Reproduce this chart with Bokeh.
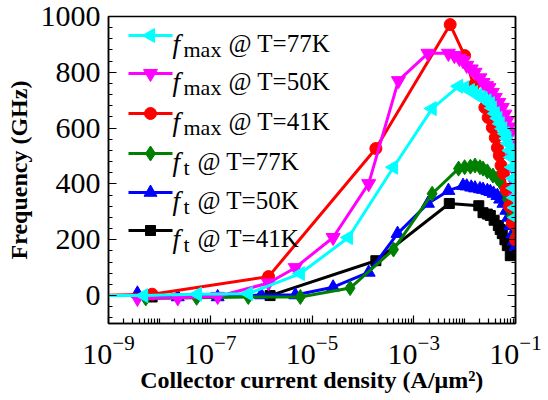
from bokeh.plotting import figure
from bokeh.models import (FixedTicker, LogTickFormatter, LinearAxis, Label,
                          CustomJSTickFormatter)
from bokeh.embed import file_html
from bokeh.resources import INLINE
import math

# ---------------- data (collector current density in A/um^2, frequency in GHz)
J_fmax77 = [5.0e-10, 4.9e-9, 5.6e-8, 5.6e-7, 5.9e-6, 5.2e-5, 4.0e-4, 2.3e-3, 7.6e-3, 1.0e-2,
            1.3e-2, 1.5e-2, 1.8e-2, 2.1e-2, 2.3e-2, 2.75e-2, 3.2e-2, 3.5e-2, 4.0e-2, 4.5e-2,
            5.0e-2, 5.6e-2, 6.3e-2, 6.8e-2, 7.2e-2, 7.8e-2, 8.3e-2, 8.7e-2, 9.1e-2, 9.3e-2,
            9.5e-2, 9.8e-2, 1.0e-1]
f_fmax77 = [0, 0, 5, 7, 79, 208, 460, 670, 750, 745,
            735, 728, 718, 710, 706, 698, 688, 672, 652, 635,
            616, 598, 580, 563, 545, 520, 495, 460, 420, 385,
            351, 315, 280]

J_fmax50 = [3.7e-9, 2.3e-8, 1.4e-7, 1.4e-6, 4.7e-6, 2.6e-5, 1.3e-4, 5.0e-4, 1.9e-3, 4.8e-3,
            6.3e-3, 7.9e-3, 9.3e-3, 1.1e-2, 1.35e-2, 1.6e-2, 2.0e-2, 2.3e-2, 2.7e-2, 3.0e-2,
            3.5e-2, 4.0e-2, 4.7e-2, 5.5e-2, 6.2e-2, 6.9e-2, 7.4e-2, 7.9e-2, 8.5e-2, 8.9e-2,
            9.3e-2, 9.8e-2, 1.0e-1]
f_fmax50 = [-10, -8, -3, 45, 100, 208, 401, 770, 868, 868,
            860, 850, 842, 825, 812, 800, 780, 763, 752, 745,
            728, 710, 692, 674, 650, 627, 604, 581, 540, 495,
            450, 400, 350]

J_fmax41 = [5.0e-10, 7.2e-9, 1.4e-6, 1.8e-4, 5.2e-3, 1.0e-2, 1.5e-2, 2.5e-2, 2.9e-2, 3.5e-2,
            4.0e-2, 4.4e-2, 4.8e-2, 5.2e-2, 5.8e-2, 6.6e-2, 7.6e-2, 8.7e-2, 1.0e-1]
f_fmax41 = [0, 5, 68, 527, 971, 860, 753, 674, 638, 602,
            566, 530, 502, 466, 437, 380, 320, 260, 200]

J_ft77 = [5.4e-9, 5.4e-8, 5.6e-7, 5.9e-6, 5.6e-5, 4.0e-4, 2.3e-3, 7.6e-3, 1.0e-2, 1.3e-2,
          1.6e-2, 2.0e-2, 2.3e-2, 2.8e-2, 3.6e-2, 4.4e-2, 5.0e-2, 5.8e-2, 6.3e-2, 6.9e-2,
          7.6e-2, 8.3e-2, 8.9e-2, 9.5e-2, 1.0e-1]
f_ft77 = [-10, -8, -5, -5, 27, 165, 365, 455, 460, 462,
          466, 460, 455, 445, 430, 420, 410, 390, 370, 345,
          310, 285, 270, 250, 215]

J_ft50 = [3.7e-9, 2.3e-8, 1.4e-7, 1.0e-6, 4.7e-6, 2.6e-5, 1.3e-4, 4.8e-4, 1.9e-3, 4.8e-3,
          9.3e-3, 1.1e-2, 1.35e-2, 1.6e-2, 2.0e-2, 2.3e-2, 2.8e-2, 3.2e-2, 3.7e-2, 4.4e-2,
          5.0e-2, 5.8e-2, 6.6e-2, 7.2e-2, 7.9e-2, 8.7e-2, 9.3e-2, 1.0e-1]
f_ft50 = [8, -5, -5, 2, 2, 30, 83, 222, 330, 376,
          394, 392, 388, 385, 382, 380, 376, 372, 366, 358,
          345, 330, 305, 280, 250, 220, 195, 175]

J_ft41 = [7.2e-9, 1.5e-6, 1.8e-4, 5.0e-3, 1.9e-2, 2.3e-2, 2.8e-2, 3.2e-2, 3.8e-2, 4.6e-2,
          5.0e-2, 5.5e-2, 6.2e-2, 6.9e-2, 7.9e-2]
f_ft41 = [-5, 0, 125, 330, 322, 297, 292, 287, 270, 251,
          237, 222, 200, 179, 143]

x_ticks = [1e-9, 1e-7, 1e-5, 1e-3, 1e-1]
y_ticks = [0, 200, 400, 600, 800, 1000]

legend_temps = ["T=77K", "T=50K", "T=41K", "T=77K", "T=50K", "T=41K"]
legend_subs = ["max", "max", "max", "t", "t", "t"]

SERIF = "'Liberation Serif', serif"

p = figure(width=548, height=400, x_axis_type="log", x_range=(1e-9, 1e-1),
           y_range=(-100, 1000), output_backend="svg", toolbar_location=None,
           min_border_left=108, min_border_right=33, min_border_top=16,
           min_border_bottom=77)
p.xgrid.visible = False
p.ygrid.visible = False
p.outline_line_color = "black"
p.outline_line_width = 1.5
p.background_fill_color = "white"
p.border_fill_color = "white"

# x axis
minor_x = []
for e in range(-9, -1):
    for m in range(1, 10):
        v = m * 10.0 ** e
        if v not in x_ticks:
            minor_x.append(v)
p.xaxis.ticker = FixedTicker(ticks=x_ticks, minor_ticks=minor_x)
p.xaxis.formatter = LogTickFormatter()
p.xaxis.major_label_text_font = SERIF
p.xaxis.major_label_text_font_size = "30px"
p.xaxis.major_label_text_color = "black"
p.xaxis.major_label_standoff = 12
p.xaxis.axis_label = "Collector current density (A/μm²)"
p.xaxis.axis_label_text_font = SERIF
p.xaxis.axis_label_text_font_style = "bold"
p.xaxis.axis_label_text_font_size = "24px"
p.xaxis.axis_label_text_color = "black"
p.xaxis.axis_label_standoff = 0
p.xaxis.major_tick_in = 8
p.xaxis.major_tick_out = 0
p.xaxis.minor_tick_in = 5
p.xaxis.minor_tick_out = 0
p.xaxis.axis_line_width = 1.5
p.xaxis.major_tick_line_width = 1.2
p.xaxis.minor_tick_line_width = 1.2

# y axis
minor_y = [v for v in range(-80, 1000, 40) if v % 200 != 0]
p.yaxis.ticker = FixedTicker(ticks=y_ticks, minor_ticks=minor_y)
p.yaxis.major_label_text_font = SERIF
p.yaxis.major_label_text_font_size = "30px"
p.yaxis.major_label_text_color = "black"
p.yaxis.major_label_standoff = 8
p.yaxis.axis_label = "Frequency (GHz)"
p.yaxis.axis_label_text_font = SERIF
p.yaxis.axis_label_text_font_style = "bold"
p.yaxis.axis_label_text_font_size = "24px"
p.yaxis.axis_label_text_color = "black"
p.yaxis.axis_label_standoff = 6
p.yaxis.major_tick_in = 8
p.yaxis.major_tick_out = 0
p.yaxis.minor_tick_in = 4
p.yaxis.minor_tick_out = 0
p.yaxis.axis_line_width = 1.5
p.yaxis.major_tick_line_width = 1.2
p.yaxis.minor_tick_line_width = 1.2

raxis = LinearAxis(ticker=FixedTicker(ticks=y_ticks, minor_ticks=minor_y),
                   formatter=CustomJSTickFormatter(code="return ''"),
                   major_label_standoff=0,
                   major_tick_in=8, major_tick_out=0, minor_tick_in=4, minor_tick_out=0,
                   axis_line_width=1.5, major_tick_line_width=1.2, minor_tick_line_width=1.2)
p.add_layout(raxis, "right")

LW = 3
series = [
    # drawn bottom -> top
    ("ft41", J_ft41, f_ft41, "black", "square", 0.0, 10),
    ("ft50", J_ft50, f_ft50, "#0000FF", "triangle", 0.0, 13),
    ("ft77", J_ft77, f_ft77, "#008000", "diamond", 0.0, 15),
    ("fmax41", J_fmax41, f_fmax41, "#FF0000", "circle", 0.0, 12),
    ("fmax50", J_fmax50, f_fmax50, "#FF00FF", "inverted_triangle", 0.0, 14),
    ("fmax77", J_fmax77, f_fmax77, "#00FFFF", "triangle", math.pi / 2, 14),
]
style = {}
for name, xs, ys, col, mk, ang, sz in series:
    p.line(xs, ys, line_color=col, line_width=LW)
    p.scatter(xs, ys, marker=mk, size=sz, angle=ang, fill_color=col, line_color=col)
    style[name] = (col, mk, ang, sz)

# ---------------- hand-made legend (layout in screen pixels -> data space)
def px2x(px):
    return 10 ** ((px - 108) / 50.875 - 9)

def py2y(py):
    return (323 - py) / (307 / 1100) - 100

order = ["fmax77", "fmax50", "fmax41", "ft77", "ft50", "ft41"]
row_cy = [35, 73, 113, 153, 192, 230]
for name, cy, tt, sb in zip(order, row_cy, legend_temps, legend_subs):
    col, mk, ang, sz = style[name]
    p.line([px2x(128), px2x(172)], [py2y(cy), py2y(cy)], line_color=col, line_width=LW)
    p.scatter([px2x(150)], [py2y(cy)], marker=mk, size=sz, angle=ang,
              fill_color=col, line_color=col)
    p.add_layout(Label(x=px2x(172), y=py2y(cy + 8), text="f", text_font=SERIF,
                       text_font_style="italic", text_font_size="27px",
                       text_baseline="alphabetic", text_color="black"))
    p.add_layout(Label(x=px2x(183), y=py2y(cy + 14), text=sb, text_font=SERIF,
                       text_font_size="22px", text_baseline="alphabetic",
                       text_color="black"))
    xs0 = 228 if sb == "max" else 197
    p.add_layout(Label(x=px2x(xs0), y=py2y(cy + 8), text="@ " + tt, text_font=SERIF,
                       text_font_size="25px", text_baseline="alphabetic",
                       text_color="black"))

open("out.html", "w").write(file_html(p, INLINE))
